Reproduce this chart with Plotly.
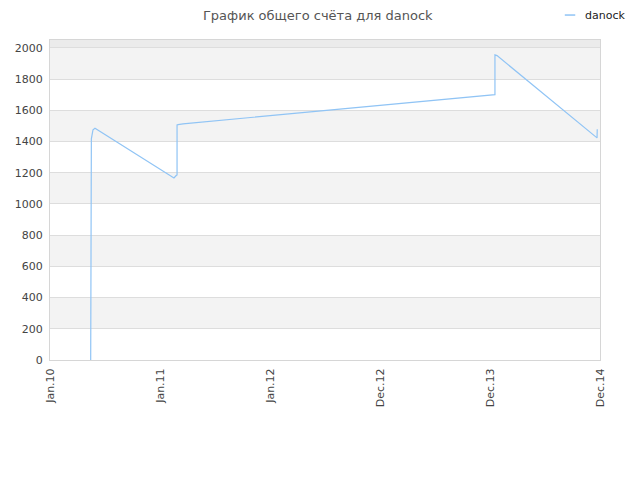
import plotly.graph_objects as go

# x positions are in "tick units": 0 = Jan.10, 1 = Jan.11, ... 5 = Dec.14
tick_labels = ["Jan.10", "Jan.11", "Jan.12", "Dec.12", "Dec.13", "Dec.14"]
tick_pos = [0, 1, 2, 3, 4, 5]

score_x = [0.370, 0.370, 0.373, 0.376, 0.376, 0.382, 0.386, 0.391, 0.409,
           1.127, 1.145, 1.155, 1.155, 1.164, 1.209, 2.000, 3.000,
           4.036, 4.045, 4.045, 4.064, 4.973, 4.975]
score_y = [0, 1200, 1219, 1225, 1417, 1440, 1465, 1475, 1485,
           1166, 1180, 1186, 1506, 1508, 1513, 1565, 1631,
           1699, 1700, 1955, 1950, 1423, 1478]

y_ticks = list(range(0, 2001, 200))
series_name = "danock"
line_color = "#90c4f5"

fig = go.Figure()
fig.add_trace(go.Scatter(
    x=score_x, y=score_y, mode="lines", name=series_name, showlegend=False,
    line=dict(color=line_color, width=1.2),
))

# alternating grey bands behind the plot
for lo, hi in zip(y_ticks[1::2], y_ticks[2::2]):
    fig.add_shape(type="rect", xref="paper", yref="y", x0=0, x1=1, y0=lo, y1=hi,
                  fillcolor="#f3f3f3", line_width=0, layer="below")
fig.add_shape(type="rect", xref="paper", yref="y", x0=0, x1=1, y0=2000, y1=2050,
              fillcolor="#ebebeb", line_width=0, layer="below")

# small legend in the top right corner (short line + name)
fig.add_shape(type="line", xref="paper", yref="paper", x0=0.936, x1=0.955,
              y0=1.078, y1=1.078, line=dict(color=line_color, width=1.5))
fig.add_annotation(text=series_name, xref="paper", yref="paper", x=0.969, y=1.078,
                   xanchor="left", yanchor="middle", showarrow=False,
                   font=dict(size=11, color="#222"))

# page body adds an 8px margin, so the margins are shifted to compensate
fig.update_layout(
    width=640, height=480,
    margin=dict(l=42, r=48, t=32, b=128),
    paper_bgcolor="white", plot_bgcolor="white",
    font=dict(family="DejaVu Sans", size=11, color="#444"),
    title=dict(text="График общего счёта для danock", x=0.484, xanchor="center",
               y=0.984, yanchor="middle", font=dict(size=13, color="#555")),
    showlegend=False,
)
fig.update_xaxes(range=[0, 5], tickvals=tick_pos, ticktext=tick_labels, tickangle=-90,
                 showgrid=False, zeroline=False, showline=True, linecolor="#d6d6d6",
                 mirror=True, ticks="outside", ticklen=3, tickcolor="white",
                 automargin=False, fixedrange=True)
fig.update_yaxes(range=[0, 2050], tickvals=y_ticks, showgrid=True, gridcolor="#dddddd",
                 zeroline=False, showline=True, linecolor="#d6d6d6", mirror=True,
                 ticks="outside", ticklen=4, tickcolor="white",
                 automargin=False, fixedrange=True)

fig.write_html("out.html")
